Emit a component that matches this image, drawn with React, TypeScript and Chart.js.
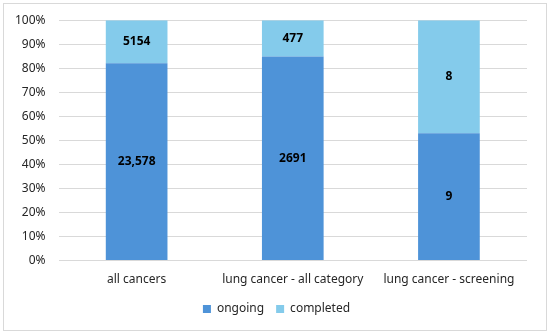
import React, { useEffect, useRef } from "react";
import { Chart, registerables } from "chart.js";

Chart.register(...registerables);

const categories = ["all cancers", "lung cancer - all category", "lung cancer - screening"];
const ongoing = [23578, 2691, 9];
const completed = [5154, 477, 8];
const ongoingLabels = ["23,578", "2691", "9"];
const completedLabels = ["5154", "477", "8"];

const totals = ongoing.map((v, i) => v + completed[i]);
const ongoingPct = ongoing.map((v, i) => (v / totals[i]) * 100);
const completedPct = completed.map((v, i) => (v / totals[i]) * 100);

const FONT = "'Noto Sans', 'Open Sans', sans-serif";

const labelPlugin = {
  id: "segLabels",
  afterDatasetsDraw(chart: any) {
    const ctx = chart.ctx;
    ctx.save();
    ctx.font = `bold 12px ${FONT}`;
    ctx.fillStyle = "#000";
    ctx.textAlign = "center";
    ctx.textBaseline = "middle";
    const labelsets = [ongoingLabels, completedLabels];
    chart.data.datasets.forEach((ds: any, di: number) => {
      const meta = chart.getDatasetMeta(di);
      meta.data.forEach((bar: any, i: number) => {
        const y = (bar.y + bar.base) / 2;
        ctx.fillText(labelsets[di][i], bar.x, y);
      });
    });
    ctx.restore();
  },
};

const borderPlugin = {
  id: "outerBorder",
  afterLayout(chart: any) {
    if (chart.legend) {
      chart.legend.left += 12;
      chart.legend.right += 12;
    }
  },
  afterDraw(chart: any) {
    const ctx = chart.ctx;
    ctx.save();
    ctx.strokeStyle = "#D9D9D9";
    ctx.lineWidth = 1;
    ctx.strokeRect(3.5, 3.5, chart.width - 7, chart.height - 7);
    ctx.restore();
  },
};

export default function App() {
  const ref = useRef<HTMLCanvasElement | null>(null);
  useEffect(() => {
    if (!ref.current) return;
    const chart = new Chart(ref.current, {
      type: "bar",
      data: {
        labels: categories,
        datasets: [
          {
            label: "ongoing",
            data: ongoingPct,
            backgroundColor: "#4E93D8",
            barPercentage: 0.79,
            categoryPercentage: 0.5,
          },
          {
            label: "completed",
            data: completedPct,
            backgroundColor: "#84CBEB",
            barPercentage: 0.79,
            categoryPercentage: 0.5,
          },
        ],
      },
      options: {
        animation: false,
        responsive: false,
        maintainAspectRatio: false,
        layout: { padding: { left: 2, right: 23, top: 16, bottom: 9 } },
        scales: {
          x: {
            stacked: true,
            grid: { display: false },
            border: { display: false },
            ticks: { color: "#262626", font: { family: FONT, size: 12 }, padding: 4 },
          },
          y: {
            stacked: true,
            min: 0,
            max: 100,
            grid: { color: "#D9D9D9", lineWidth: 1, drawTicks: false },
            border: { display: false },
            ticks: {
              stepSize: 10,
              color: "#262626",
              padding: 13,
              font: { family: FONT, size: 12 },
              callback: (v: any) => v + "%",
            },
          },
        },
        plugins: {
          legend: {
            position: "bottom",
            labels: {
              boxWidth: 8,
              boxHeight: 8,
              color: "#262626",
              font: { family: FONT, size: 12 },
              padding: 12,
            },
          },
          tooltip: { enabled: false },
        },
      },
      plugins: [labelPlugin, borderPlugin],
    });
    return () => chart.destroy();
  }, []);
  return (
    <div style={{ position: "absolute", left: 0, top: 0, width: 550, height: 334, background: "#fff" }}>
      <canvas ref={ref} width={550} height={334} />
    </div>
  );
}
